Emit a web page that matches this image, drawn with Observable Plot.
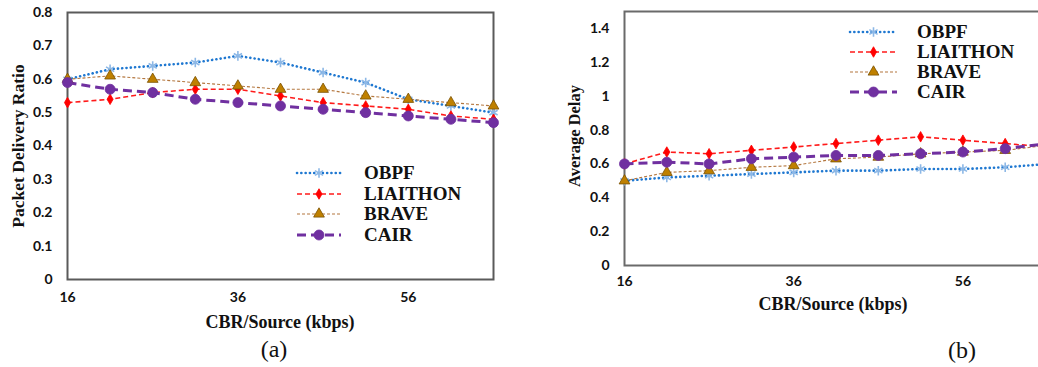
<!DOCTYPE html>
<html><head><meta charset="utf-8">
<script src="https://cdn.jsdelivr.net/npm/d3@7"></script>
<script src="https://cdn.jsdelivr.net/npm/@observablehq/plot@0.6"></script>
<style>
html,body{margin:0;padding:0;background:#fff;}
body{width:1038px;height:367px;overflow:hidden;position:relative;}
.abs{position:absolute;}
.serif{font-family:"Liberation Serif","Times New Roman",serif;color:#111;}
.title{font-weight:bold;white-space:nowrap;}
.legend{font-family:"Liberation Serif",serif;font-weight:bold;font-size:19px;color:#111;}
.legend .row{position:absolute;height:20px;}
</style>
</head><body>
<div id="pa" class="abs" style="left:0;top:0;width:520px"></div>
<div id="pb" class="abs" style="left:520px;top:0;width:540px"></div>
<script>
// ---------- data ----------
const cbr = [16, 21, 26, 31, 36, 41, 46, 51, 56, 61, 66];
const seriesNames = ["OBPF", "LIAITHON", "BRAVE", "CAIR"];
const xTicks = [16, 36, 56];
const pdrTicks = [0, 0.1, 0.2, 0.3, 0.4, 0.5, 0.6, 0.7, 0.8];
const delayTicks = [0, 0.2, 0.4, 0.6, 0.8, 1, 1.2, 1.4];

const pdrOBPF     = [0.60, 0.63, 0.64, 0.65, 0.67, 0.65, 0.62, 0.59, 0.54, 0.52, 0.50];
const pdrLIAITHON = [0.53, 0.54, 0.56, 0.57, 0.57, 0.55, 0.53, 0.52, 0.51, 0.49, 0.48];
const pdrBRAVE    = [0.60, 0.61, 0.60, 0.59, 0.58, 0.57, 0.57, 0.55, 0.54, 0.53, 0.52];
const pdrCAIR     = [0.59, 0.57, 0.56, 0.54, 0.53, 0.52, 0.51, 0.50, 0.49, 0.48, 0.47];

const delayOBPF     = [0.50, 0.52, 0.53, 0.54, 0.55, 0.56, 0.56, 0.57, 0.57, 0.58, 0.60];
const delayLIAITHON = [0.60, 0.67, 0.66, 0.68, 0.70, 0.72, 0.74, 0.76, 0.74, 0.72, 0.70];
const delayBRAVE    = [0.50, 0.55, 0.56, 0.58, 0.59, 0.63, 0.64, 0.66, 0.67, 0.68, 0.71];
const delayCAIR     = [0.60, 0.61, 0.60, 0.63, 0.64, 0.65, 0.65, 0.66, 0.67, 0.69, 0.72];

// ---------- styles ----------
const style = {
  OBPF:     {stroke: "#1f78d1", width: 2.6, dash: "0.1,4.2", cap: "round", symbol: "asterisk", fill: "none", mstroke: "#8db8e6", r: 4.5},
  LIAITHON: {stroke: "#ff1a1a", width: 1.6, dash: "5,3", cap: "butt", symbol: "diamond", fill: "#ff0000", mstroke: "#ff0000", r: 3.2},
  BRAVE:    {stroke: "#b4773f", width: 1.1, dash: "3,2", cap: "butt", symbol: "triangle", fill: "#bf8000", mstroke: "#7a5000", r: 4},
  CAIR:     {stroke: "#7030a0", width: 3, dash: "9,5", cap: "butt", symbol: "circle", fill: "#7030a0", mstroke: "#7030a0", r: 5}
};

function rows(values) {
  const out = [];
  seriesNames.forEach((s, i) => values[i].forEach((v, j) => out.push({series: s, x: cbr[j], y: v})));
  return out;
}
const pdrRows = rows([pdrOBPF, pdrLIAITHON, pdrBRAVE, pdrCAIR]);
const delayRows = rows([delayOBPF, delayLIAITHON, delayBRAVE, delayCAIR]);

const tickFont = {fontSize: 14, fontWeight: "bold", fontFamily: "Lato, 'Open Sans', sans-serif", fill: "#111"};

function seriesMarks(data) {
  const marks = [];
  for (const s of seriesNames) {
    const st = style[s];
    marks.push(Plot.line(data.filter(d => d.series === s), {x: "x", y: "y", stroke: st.stroke, strokeWidth: st.width, strokeDasharray: st.dash, strokeLinecap: st.cap}));
  }
  for (const s of seriesNames) {
    const st = style[s];
    marks.push(Plot.dot(data.filter(d => d.series === s), {x: "x", y: "y", symbol: st.symbol, r: st.r, fill: st.fill, stroke: st.mstroke, strokeWidth: st.symbol === "asterisk" ? 1.6 : 0.8}));
  }
  return marks;
}

const plotA = Plot.plot({
  width: 520, height: 367,
  marginLeft: 67, marginRight: 27, marginTop: 12, marginBottom: 88,
  x: {domain: [16, 66]},
  y: {domain: [0, 0.8]},
  style: {background: "transparent", maxWidth: "none"},
  marks: [
    Plot.frame({stroke: "#5a5a5a", strokeWidth: 2}),
    ...seriesMarks(pdrRows),
    Plot.axisY({ticks: pdrTicks, tickSize: 0, tickPadding: 15, tickFormat: d => String(d), label: null, ...tickFont}),
    Plot.axisX({ticks: xTicks, tickSize: 0, tickPadding: 13, tickFormat: d => String(d), label: null, ...tickFont})
  ]
});
document.getElementById("pa").appendChild(plotA);

const plotB = Plot.plot({
  width: 540, height: 367,
  marginLeft: 104, marginRight: 13, marginTop: 11, marginBottom: 102,
  x: {domain: [16, 66]},
  y: {domain: [0, 1.5]},
  style: {background: "transparent", maxWidth: "none"},
  marks: [
    Plot.frame({stroke: "#6a6a6a", strokeWidth: 2}),
    ...seriesMarks(delayRows),
    Plot.axisY({ticks: delayTicks, tickSize: 0, tickPadding: 15, tickFormat: d => String(d), label: null, ...tickFont}),
    Plot.axisX({ticks: xTicks, tickSize: 0, tickPadding: 11, tickFormat: d => String(d), label: null, ...tickFont})
  ]
});
document.getElementById("pb").appendChild(plotB);

// ---------- titles ----------
function addText(txt, cls, css) {
  const d = document.createElement("div");
  d.className = "abs " + cls;
  d.textContent = txt;
  d.setAttribute("style", css);
  document.body.appendChild(d);
  return d;
}
addText("CBR/Source (kbps)", "serif title", "left:280px;top:322px;transform:translate(-50%,-50%);font-size:18px;");
addText("CBR/Source (kbps)", "serif title", "left:833px;top:304px;transform:translate(-50%,-50%);font-size:18px;");
addText("Packet Delivery Ratio", "serif title", "left:18px;top:146px;transform:translate(-50%,-50%) rotate(-90deg);font-size:17.5px;");
addText("Average Delay", "serif title", "left:575px;top:136px;transform:translate(-50%,-50%) rotate(-90deg);font-size:16.5px;");
addText("(a)", "serif", "left:274px;top:349px;transform:translate(-50%,-50%);font-size:24px;");
addText("(b)", "serif", "left:962px;top:350px;transform:translate(-50%,-50%);font-size:24px;");

// ---------- legends ----------
function swatch(s, w) {
  const st = style[s];
  const svg = d3.create("svg").attr("width", w).attr("height", 20).style("position", "absolute").style("left", "0").style("top", "0").style("overflow", "visible");
  svg.append("line").attr("x1", 0).attr("x2", w).attr("y1", 10).attr("y2", 10)
    .attr("stroke", st.stroke).attr("stroke-width", st.width).attr("stroke-dasharray", st.dash).attr("stroke-linecap", st.cap);
  const symMap = {asterisk: d3.symbolAsterisk, diamond: d3.symbolDiamond, triangle: d3.symbolTriangle, circle: d3.symbolCircle};
  const area = Math.PI * st.r * st.r;
  svg.append("path").attr("d", d3.symbol(symMap[st.symbol], area)()).attr("transform", `translate(${w/2},10)`)
    .attr("fill", st.fill).attr("stroke", st.mstroke).attr("stroke-width", st.symbol === "asterisk" ? 1.6 : 0.8);
  return svg.node();
}
function legend(left, top, gap, lineW, textOff) {
  const box = document.createElement("div");
  box.className = "abs legend";
  box.setAttribute("style", `left:${left}px;top:${top}px;width:200px;height:${gap*4+10}px;`);
  seriesNames.forEach((s, i) => {
    const r = document.createElement("div");
    r.className = "row";
    r.style.top = (i * gap) + "px";
    r.style.left = "0px";
    r.appendChild(swatch(s, lineW));
    const t = document.createElement("span");
    t.textContent = s;
    t.setAttribute("style", `position:absolute;left:${textOff}px;top:-1px;line-height:22px;`);
    r.appendChild(t);
    box.appendChild(r);
  });
  document.body.appendChild(box);
}
legend(297, 163, 20.7, 44, 67);
legend(850, 22, 20, 47, 67);
</script>
</body></html>
